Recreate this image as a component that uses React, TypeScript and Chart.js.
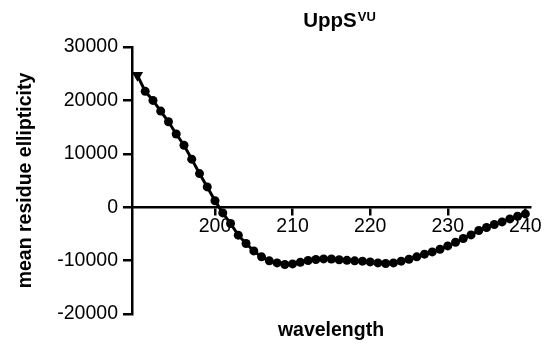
import React, { useEffect, useRef } from "react";
import { Chart, registerables } from "chart.js";

Chart.register(...registerables);

const wavelengths: number[] = [
  190, 191, 192, 193, 194, 195, 196, 197, 198, 199,
  200, 201, 202, 203, 204, 205, 206, 207, 208, 209,
  210, 211, 212, 213, 214, 215, 216, 217, 218, 219,
  220, 221, 222, 223, 224, 225, 226, 227, 228, 229,
  230, 231, 232, 233, 234, 235, 236, 237, 238, 239, 240,
];

const ellipticity: number[] = [
  24700, 21700, 20000, 18000, 16000, 13700, 11600, 9000, 6300, 3800,
  1200, -1070, -3050, -5240, -6800, -8180, -9300, -10050, -10430, -10740,
  -10620, -10300, -9990, -9800, -9680, -9700, -9850, -9950, -10050, -10110,
  -10240, -10430, -10550, -10430, -10110, -9740, -9300, -8800, -8370, -7870,
  -7250, -6560, -5870, -5190, -4370, -3800, -3240, -2750, -2190, -1690, -1250,
];

const xTickValues: number[] = [200, 210, 220, 230, 240];
const yTickValues: number[] = [-20000, -10000, 0, 10000, 20000, 30000];

const titleMain = "UppS";
const titleSup = "VU";
const xTitle = "wavelength";
const yTitle = "mean residue ellipticity";

const FONT = "'Liberation Sans', Arial, Helvetica, sans-serif";

const titlePlugin = {
  id: "supTitle",
  afterDraw(chart: any) {
    const ctx = chart.ctx;
    ctx.save();
    ctx.fillStyle = "#000";
    ctx.textBaseline = "alphabetic";
    ctx.textAlign = "left";
    ctx.font = `bold 20.5px ${FONT}`;
    const wMain = ctx.measureText(titleMain).width;
    ctx.font = `bold 13px ${FONT}`;
    const wSup = ctx.measureText(titleSup).width;
    const area = chart.chartArea;
    const cx = (area.left + area.right) / 2;
    const startX = cx - (wMain + wSup) / 2 + 8;
    ctx.font = `bold 20.5px ${FONT}`;
    ctx.fillText(titleMain, startX, 26.5);
    ctx.font = `bold 13px ${FONT}`;
    ctx.fillText(titleSup, startX + wMain + 1, 21);
    ctx.restore();
  },
};

export default function App() {
  const canvasRef = useRef<HTMLCanvasElement | null>(null);

  useEffect(() => {
    if (!canvasRef.current) return;
    const points = wavelengths.map((w, i) => ({ x: w, y: ellipticity[i] }));
    const chart = new Chart(canvasRef.current, {
      type: "line",
      data: {
        datasets: [
          {
            data: points,
            borderColor: "#000",
            backgroundColor: "#000",
            borderWidth: 3,
            tension: 0,
            pointRadius: points.map((_, i) => (i === 0 ? 6.5 : 4.5)),
            pointStyle: points.map((_, i) => (i === 0 ? "triangle" : "circle")) as any,
            pointRotation: points.map((_, i) => (i === 0 ? 180 : 0)),
            pointBackgroundColor: "#000",
            pointBorderColor: "#000",
            pointBorderWidth: 0,
            clip: false as any,
          },
        ],
      },
      options: {
        responsive: false,
        animation: false,
        layout: { padding: { left: 0, top: 47, right: 20, bottom: 0 } },
        plugins: {
          legend: { display: false },
          tooltip: { enabled: false },
          title: { display: false },
        },
        scales: {
          x: {
            type: "linear",
            min: 189.3,
            max: 240.6,
            position: { y: 0 } as any,
            afterBuildTicks: (scale: any) => {
              scale.ticks = xTickValues.map((v) => ({ value: v }));
            },
            grid: {
              display: true,
              drawOnChartArea: false,
              drawTicks: true,
              tickLength: 7,
              color: "#000",
              lineWidth: 2.5,
            },
            border: { display: true, color: "#000", width: 2.5 },
            ticks: {
              color: "#000",
              padding: 1,
              font: { family: FONT, size: 19.5 },
              callback: (v: any) => String(v),
            },
          },
          x2: {
            type: "linear",
            position: "bottom",
            grid: { display: false },
            border: { display: false },
            ticks: { display: false },
            title: {
              display: true,
              text: xTitle,
              color: "#000",
              font: { family: FONT, size: 19.5, weight: "bold" },
              padding: { top: 0, bottom: 3 },
            },
            afterFit: (scale: any) => {
              scale.height = 31;
            },
          },
          y: {
            type: "linear",
            min: -20000,
            max: 30000,
            afterBuildTicks: (scale: any) => {
              scale.ticks = yTickValues.map((v) => ({ value: v }));
            },
            grid: {
              display: true,
              drawOnChartArea: false,
              drawTicks: true,
              tickLength: 9,
              color: "#000",
              lineWidth: 2.5,
            },
            border: { display: true, color: "#000", width: 2.5 },
            ticks: {
              color: "#000",
              padding: 5,
              font: { family: FONT, size: 19.5 },
              callback: (v: any) => String(v),
            },
            title: {
              display: true,
              text: yTitle,
              color: "#000",
              font: { family: FONT, size: 19.5, weight: "bold" },
              padding: { top: 14, bottom: 0 },
            },
            afterFit: (scale: any) => {
              scale.width = 132;
            },
          },
        },
      },
      plugins: [titlePlugin],
    });
    return () => chart.destroy();
  }, []);

  return (
    <div style={{ position: "absolute", left: 0, top: 0, width: 550, height: 345 }}>
      <canvas ref={canvasRef} width={550} height={345} style={{ display: "block" }} />
    </div>
  );
}
